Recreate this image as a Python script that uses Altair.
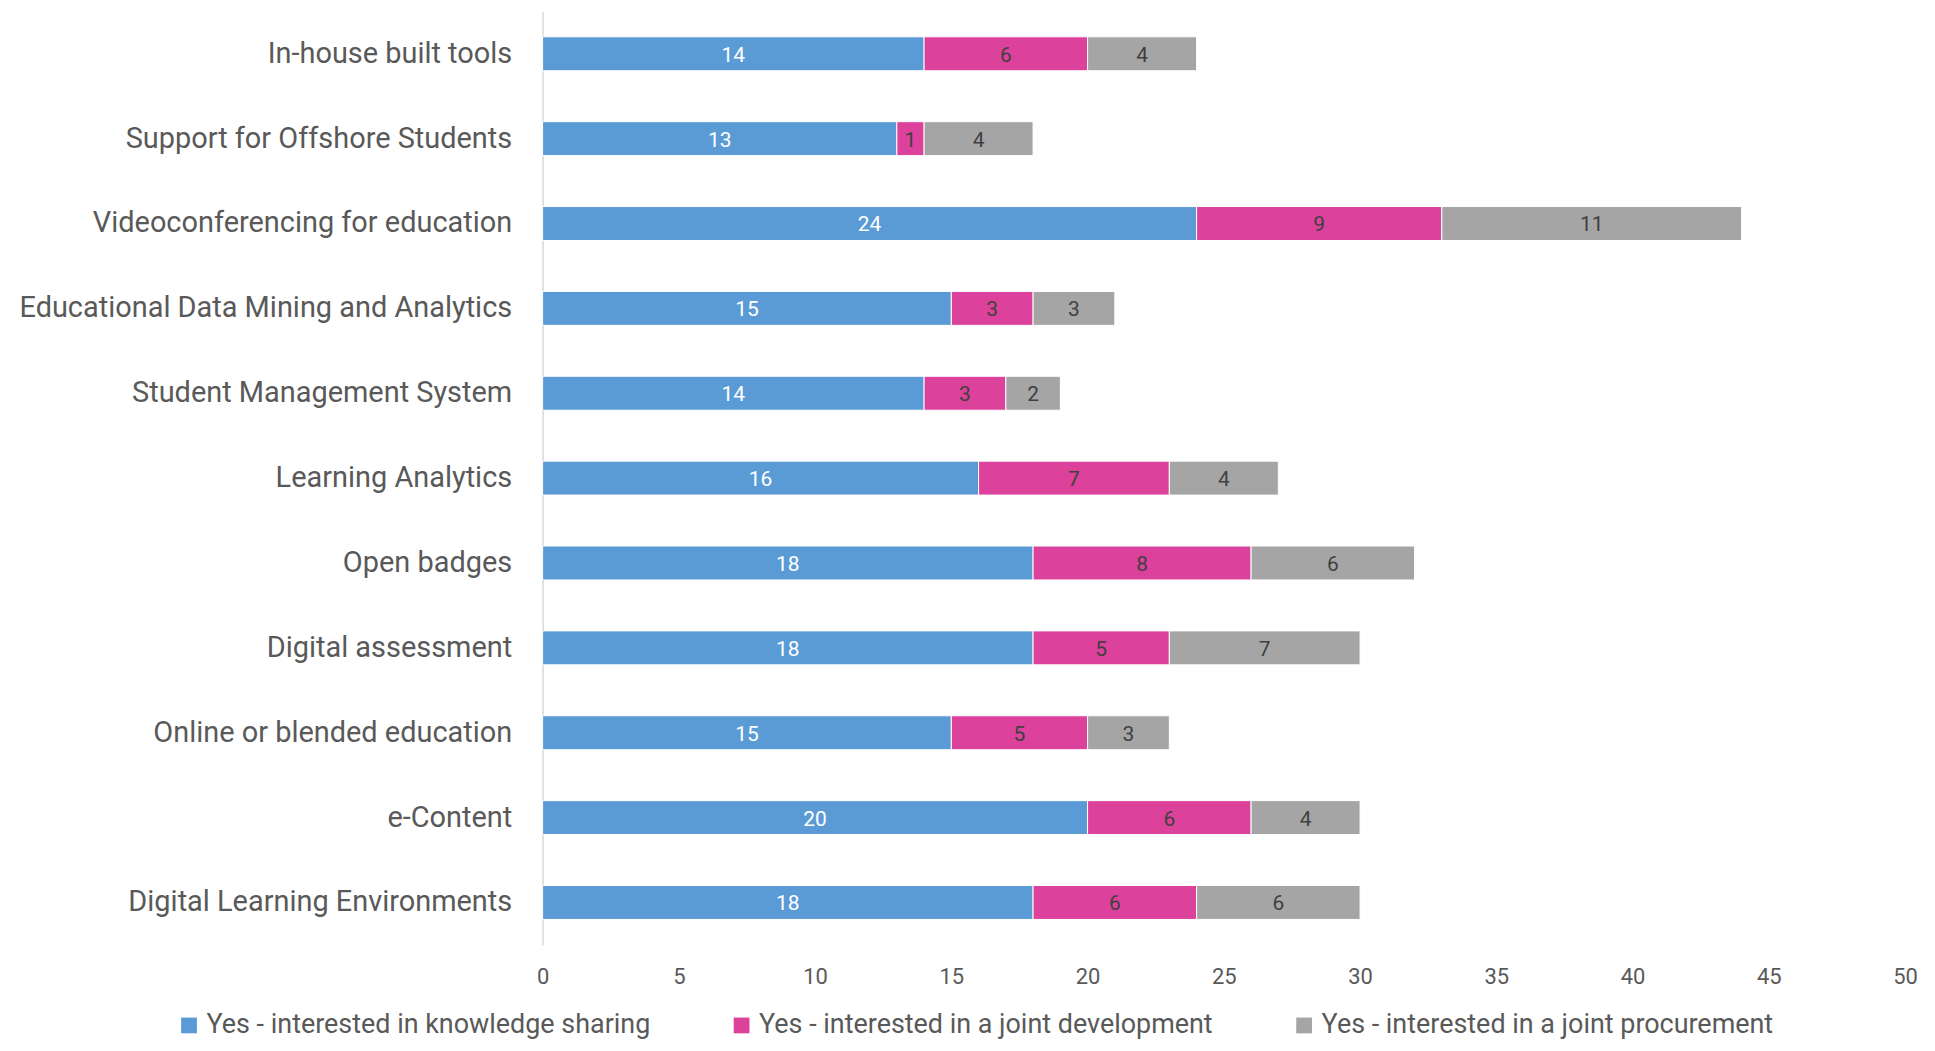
import altair as alt
import pandas as pd

categories = [
    "In-house  built tools",
    "Support for Offshore Students",
    "Videoconferencing for education",
    "Educational Data Mining and Analytics",
    "Student Management System",
    "Learning Analytics",
    "Open badges",
    "Digital assessment",
    "Online or blended education",
    "e-Content",
    "Digital Learning Environments",
]
series = [
    "Yes - interested in knowledge sharing",
    "Yes - interested in a joint development",
    "Yes - interested in a joint procurement",
]
knowledge_sharing = [14, 13, 24, 15, 14, 16, 18, 18, 15, 20, 18]
joint_development = [6, 1, 9, 3, 3, 7, 8, 5, 5, 6, 6]
joint_procurement = [4, 4, 11, 3, 2, 4, 6, 7, 3, 4, 6]
x_ticks = [0, 5, 10, 15, 20, 25, 30, 35, 40, 45, 50]
colors = ["#5B9BD5", "#DC419C", "#A5A5A5"]

rows = []
for si, vals in enumerate([knowledge_sharing, joint_development, joint_procurement]):
    for c, v in zip(categories, vals):
        rows.append({"category": c, "series": series[si], "order": si, "value": v})
df = pd.DataFrame(rows)

FONT = "Roboto"

base = alt.Chart(df)

bars = base.mark_bar(stroke="white", strokeWidth=1).encode(
    y=alt.Y("category:N", sort=categories, title=None,
            scale=alt.Scale(paddingInner=0.6, paddingOuter=0.3),
            axis=alt.Axis(domainColor="#D9D9D9", domainWidth=1.5, ticks=False,
                          labelFontSize=29, labelColor="#595959", labelPadding=31,
                          labelFont=FONT, labelLimit=700)),
    x=alt.X("value:Q", stack="zero", title=None,
            scale=alt.Scale(domain=[0, 50], nice=False),
            axis=alt.Axis(values=x_ticks, domain=False, ticks=False, grid=False,
                          labelFontSize=22, labelColor="#595959", labelPadding=22,
                          labelFont=FONT, labelFlush=False)),
    color=alt.Color("series:N", sort=series,
                    scale=alt.Scale(domain=series, range=colors),
                    legend=alt.Legend(title=None, orient="none", direction="horizontal",
                                      legendX=-368, legendY=1003,
                                      labelFontSize=27, labelColor="#595959", labelFont=FONT,
                                      symbolType="square", symbolSize=250,
                                      symbolStrokeWidth=0, columnPadding=77,
                                      labelLimit=700)),
    order=alt.Order("order:Q"),
)

labels = base.transform_stack(
    stack="value", groupby=["category"], as_=["x0", "x1"],
    sort=[alt.SortField("order", order="ascending")],
).transform_calculate(
    mid="(datum.x0 + datum.x1) / 2"
).mark_text(fontSize=21, font=FONT, baseline="middle", dy=2).encode(
    y=alt.Y("category:N", sort=categories),
    x=alt.X("mid:Q"),
    text=alt.Text("value:Q"),
    color=alt.condition(alt.datum.order == 0, alt.value("white"), alt.value("#404040")),
)

chart = alt.layer(bars, labels).properties(
    width=1366, height=936,
    autosize=alt.AutoSizeParams(type="none"),
    padding={"left": 536, "top": 2, "right": 22, "bottom": 96},
).configure(font=FONT).configure_view(stroke="transparent", strokeWidth=0)

chart.save("out.html", embed_options={"renderer": "svg", "actions": False})
